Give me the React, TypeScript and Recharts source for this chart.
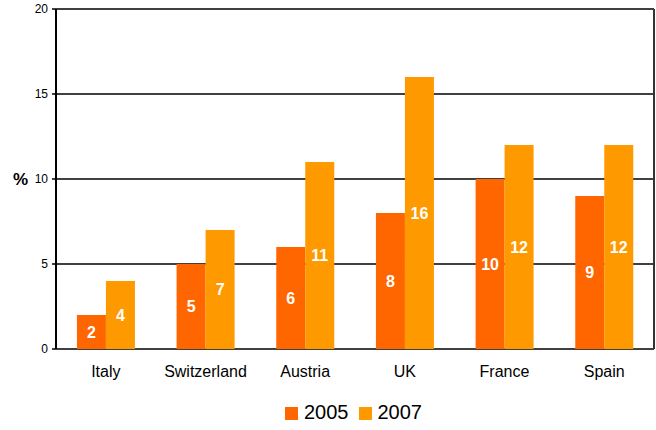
import React from 'react';
import { BarChart, Bar, XAxis, YAxis, CartesianGrid, Legend, LabelList } from 'recharts';

const countries = ['Italy', 'Switzerland', 'Austria', 'UK', 'France', 'Spain'];
const values2005 = [2, 5, 6, 8, 10, 9];
const values2007 = [4, 7, 11, 16, 12, 12];
const yTicks = [0, 5, 10, 15, 20];
const boundaryTicks = [0, 1, 2, 3, 4, 5, 6];

const data = countries.map((c, i) => ({ country: c, y2005: values2005[i], y2007: values2007[i] }));

const FONT = '"Liberation Sans", Arial, Helvetica, sans-serif';

export default function App() {
  return (
    <div style={{ position: 'absolute', left: 0, top: 0, width: 656, height: 430, fontFamily: FONT, background: '#fff' }}>
      <BarChart
        width={656}
        height={430}
        data={data}
        margin={{ top: 9, right: 1, left: 0, bottom: 6 }}
        barCategoryGap="21%"
        barGap={0}
      >
        <CartesianGrid horizontal={true} vertical={false} stroke="#000" strokeWidth={1.5} />
        <XAxis
          xAxisId="b"
          type="number"
          domain={[0, 6]}
          ticks={boundaryTicks}
          height={0}
          tick={false}
          tickLine={{ stroke: '#000', strokeWidth: 1.5 }}
          tickSize={5}
          axisLine={{ stroke: '#000', strokeWidth: 2 }}
        />
        <XAxis
          dataKey="country"
          height={52}
          axisLine={false}
          tickLine={false}
          tickSize={0}
          tickMargin={17}
          tick={{ fill: '#000', fontSize: 16, fontFamily: FONT }}
        />
        <YAxis
          domain={[0, 20]}
          ticks={yTicks}
          width={56}
          axisLine={{ stroke: '#000', strokeWidth: 2 }}
          tickLine={{ stroke: '#000', strokeWidth: 1.5 }}
          tickSize={4}
          tickMargin={4}
          tick={{ fill: '#000', fontSize: 12, fontFamily: FONT }}
          label={{ value: '%', position: 'insideLeft', offset: 13, fill: '#000', fontSize: 17, fontWeight: 'bold', fontFamily: FONT }}
        />
        <YAxis
          yAxisId="r"
          orientation="right"
          width={1}
          tick={false}
          tickLine={false}
          axisLine={{ stroke: '#333', strokeWidth: 2 }}
        />
        <Legend
          verticalAlign="bottom"
          iconType="square"
          iconSize={13}
          wrapperStyle={{ fontSize: 20, fontFamily: FONT, paddingLeft: 31 }}
          formatter={(value: string) => <span style={{ color: '#000', marginLeft: 2 }}>{value}</span>}
        />
        <Bar dataKey="y2005" name="2005" fill="#FF6600" isAnimationActive={false}>
          <LabelList dataKey="y2005" position="center" fill="#fff" fontSize={16} fontWeight="bold" fontFamily={FONT} />
        </Bar>
        <Bar dataKey="y2007" name="2007" fill="#FF9900" isAnimationActive={false}>
          <LabelList dataKey="y2007" position="center" fill="#fff" fontSize={16} fontWeight="bold" fontFamily={FONT} />
        </Bar>
      </BarChart>
    </div>
  );
}
